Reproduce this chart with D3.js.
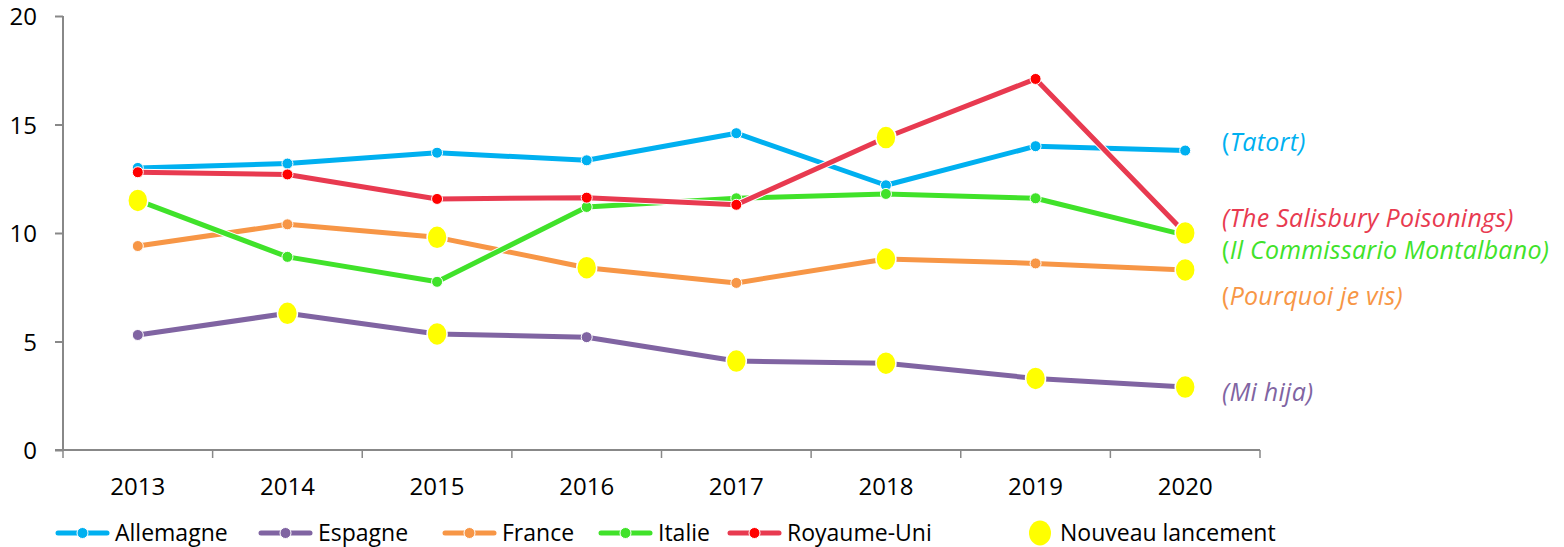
<!DOCTYPE html>
<html>
<head>
<meta charset="utf-8">
<script src="https://cdn.jsdelivr.net/npm/d3@7"></script>
<style>
body { margin:0; background:#fff; }
svg { font-family: "Open Sans", sans-serif; }
</style>
</head>
<body>
<svg id="chart" width="1564" height="547"></svg>
<script>
var years = ["2013","2014","2015","2016","2017","2018","2019","2020"]
var allemagne = [13.0, 13.2, 13.7, 13.35, 14.6, 12.2, 14.0, 13.8]
var espagne = [5.3, 6.3, 5.35, 5.2, 4.1, 4.0, 3.3, 2.9]
var france = [9.4, 10.4, 9.8, 8.4, 7.7, 8.8, 8.6, 8.3]
var italie = [11.5, 8.9, 7.75, 11.2, 11.6, 11.8, 11.6, 9.9]
var royaumeUni = [12.8, 12.7, 11.57, 11.63, 11.3, 14.4, 17.1, 10.0]
var seriesNames = ["Allemagne","Espagne","France","Italie","Royaume-Uni"]
var lineColors = ["#00B0F0","#8064A2","#F79646","#40E22A","#E83A50"]
var dotColors = ["#00B0F0","#8064A2","#F79646","#40E22A","#FF0000"]
// nouveau lancement: [series index, year]
var launches = [[3,"2013"],[1,"2014"],[2,"2015"],[1,"2015"],[2,"2016"],[1,"2017"],
  [4,"2018"],[2,"2018"],[1,"2018"],[1,"2019"],[1,"2020"],[2,"2020"],[4,"2020"]]
var showNames = ["Tatort","Mi hija","Pourquoi je vis","Il Commissario Montalbano","The Salisbury Poisonings"]
var showNameY = [14.2, 2.65, 7.1, 9.2, 10.7]
var yTicks = [0,5,10,15,20]

var data = [allemagne, espagne, france, italie, royaumeUni]
var svg = d3.select("#chart")
var margin = {top:16, left:63, right:304, bottom:97}
var width = 1564, height = 547

var xScale = d3.scaleBand().domain(years).range([margin.left, width-margin.right])
var yScale = d3.scaleLinear().domain([0,20]).range([height-margin.bottom, margin.top])
var xc = function(y){ return xScale(y) + xScale.bandwidth()/2 }

// axes
var yAxis = svg.append("g")
  .attr("transform","translate("+margin.left+",0)")
  .call(d3.axisLeft(yScale).tickValues(yTicks).tickSize(8).tickPadding(18))
yAxis.attr("font-family",null).attr("font-size",null)
yAxis.selectAll("text").style("font-size","24px").attr("fill","#000").attr("dy","0.36em")
yAxis.selectAll("line, path").attr("stroke","#888").attr("stroke-width",2)
yAxis.select(".domain").attr("d","M0,"+yScale(20)+"V"+yScale(0))

var xAxis = svg.append("g")
  .attr("transform","translate(0,"+yScale(0)+")")
xAxis.append("line").attr("x1",margin.left-8).attr("x2",width-margin.right)
  .attr("stroke","#888").attr("stroke-width",2)
xAxis.selectAll(".tk").data(d3.range(years.length+1)).join("line")
  .attr("x1",function(i){ return margin.left + i*xScale.step() })
  .attr("x2",function(i){ return margin.left + i*xScale.step() })
  .attr("y1",0).attr("y2",8).attr("stroke","#888").attr("stroke-width",1.5)
xAxis.selectAll("text").data(years).join("text")
  .attr("x",function(d){ return xc(d) }).attr("y",45)
  .attr("text-anchor","middle").style("font-size","24px").text(function(d){ return d })

var line = d3.line()
  .x(function(d,i){ return xc(years[i]) })
  .y(function(d){ return yScale(d) })

var g = svg.append("g")
data.forEach(function(s, k){
  g.append("path").datum(s)
    .attr("fill","none").attr("stroke","#fff").attr("stroke-width",7)
    .attr("stroke-linejoin","round").attr("d",line)
  g.append("path").datum(s)
    .attr("fill","none").attr("stroke",lineColors[k]).attr("stroke-width",5)
    .attr("stroke-linejoin","round").attr("d",line)
  g.selectAll(".dot"+k).data(s).join("circle")
    .attr("cx",function(d,i){ return xc(years[i]) })
    .attr("cy",function(d){ return yScale(d) })
    .attr("r",5.5).attr("fill",dotColors[k]).attr("stroke","#fff").attr("stroke-width",1)
})
g.selectAll(".launch").data(launches).join("ellipse")
  .attr("cx",function(d){ return xc(d[1]) })
  .attr("cy",function(d){ return yScale(data[d[0]][years.indexOf(d[1])]) })
  .attr("rx",10).attr("ry",11.5).attr("fill","#FFFF00").attr("stroke","#fff").attr("stroke-width",1.5)

// show names
var shows = svg.selectAll(".show").data(showNames).join("text")
  .attr("x",1222).attr("y",function(d,i){ return yScale(showNameY[i]) })
  .attr("dy","0.35em").style("font-size","25px").style("letter-spacing","0.25px")
  .attr("fill",function(d,i){ return lineColors[i] })
shows.append("tspan").style("font-style",function(d,i){ return i==1 || i==4 ? "italic" : "normal" }).text("(")
shows.append("tspan").style("font-style","italic").text(function(d){ return d + ")" })

// legend
var legX = [55,258,442,598,727]
var leg = svg.append("g").attr("transform","translate(0,533)")
seriesNames.forEach(function(n,k){
  var e = leg.append("g").attr("transform","translate("+legX[k]+",0)")
  e.append("line").attr("x1",3).attr("x2",52).attr("stroke",lineColors[k])
    .attr("stroke-width",5).attr("stroke-linecap","round")
  e.append("circle").attr("cx",27.5).attr("r",5.5).attr("fill",dotColors[k])
    .attr("stroke","#fff").attr("stroke-width",1)
  e.append("text").attr("x",60).attr("dy","0.35em").style("font-size","23px").text(n)
})
leg.append("ellipse").attr("cx",1040).attr("rx",11).attr("ry",12.5).attr("fill","#FFFF00")
leg.append("text").attr("x",1060).attr("dy","0.35em").style("font-size","23px").text("Nouveau lancement")
</script>
</body>
</html>
